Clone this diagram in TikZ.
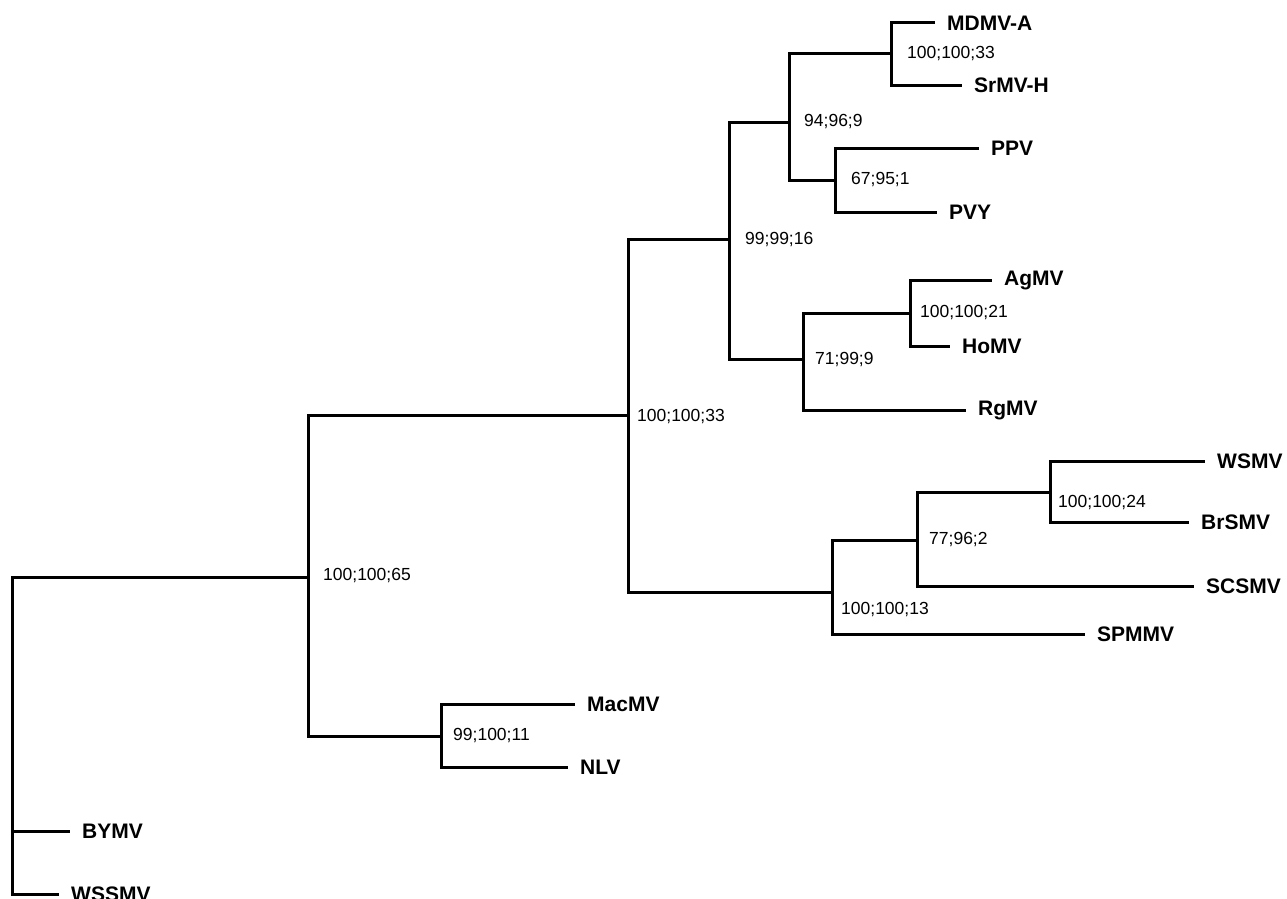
\documentclass[tikz,border=0pt]{standalone}
\usepackage{fontspec}
\setmainfont{Liberation Sans}
\tikzset{
	branch/.style={line width=3pt, line cap=rect},
	taxon/.style={anchor=west, inner xsep=14pt, inner ysep=0pt, font=\fontsize{21}{21}\selectfont\bfseries},
	boot/.style={anchor=west, inner sep=0pt, font=\fontsize{17.5}{18}\selectfont}
}
\begin{document}
\begin{tikzpicture}[x=1pt,y=-1pt]
		\useasboundingbox (0,0) rectangle (1287,899);
		
		% internal nodes
		\coordinate (root) at (12,577);
		\coordinate (n65) at (308,577);
		\coordinate (n33) at (628,415);
		\coordinate (n16) at (729,239);
		\coordinate (n9a) at (789,122);
		\coordinate (n33a) at (891,54);
		\coordinate (n1) at (835,180);
		\coordinate (n9b) at (803,359);
		\coordinate (n21) at (910,313);
		\coordinate (n13) at (832,592);
		\coordinate (n2) at (917,540);
		\coordinate (n24) at (1050,492);
		\coordinate (n11) at (441,736);
		
		% taxa
		\node [taxon] (MDMVA) at (933,23) {MDMV-A};
		\node [taxon] (SrMVH) at (960,85) {SrMV-H};
		\node [taxon] (PPV) at (977,148) {PPV};
		\node [taxon] (PVY) at (935,212) {PVY};
		\node [taxon] (AgMV) at (990,280) {AgMV};
		\node [taxon] (HoMV) at (948,346) {HoMV};
		\node [taxon] (RgMV) at (964,410) {RgMV};
		\node [taxon] (WSMV) at (1203,461) {WSMV};
		\node [taxon] (BrSMV) at (1187,522) {BrSMV};
		\node [taxon] (SCSMV) at (1192,586) {SCSMV};
		\node [taxon] (SPMMV) at (1083,634) {SPMMV};
		\node [taxon] (MacMV) at (573,704) {MacMV};
		\node [taxon] (NLV) at (566,767) {NLV};
		\node [taxon] (BYMV) at (68,831) {BYMV};
		\node [taxon, yshift=-5pt] (WSSMV) at (57,889) {WSSMV};
		
		% branches
		\draw[branch] (root) -- (n65) (root) |- (BYMV.west) (root) |- (WSSMV.west);
		\draw[branch] (n65) |- (n33) (n65) |- (n11);
		\draw[branch] (n33) |- (n16) (n33) |- (n13);
		\draw[branch] (n16) |- (n9a) (n16) |- (n9b);
		\draw[branch] (n9a) |- (n33a) (n9a) |- (n1);
		\draw[branch] (n33a) |- (MDMVA.west) (n33a) |- (SrMVH.west);
		\draw[branch] (n1) |- (PPV.west) (n1) |- (PVY.west);
		\draw[branch] (n9b) |- (n21) (n9b) |- (RgMV.west);
		\draw[branch] (n21) |- (AgMV.west) (n21) |- (HoMV.west);
		\draw[branch] (n13) |- (n2) (n13) |- (SPMMV.west);
		\draw[branch] (n2) |- (n24) (n2) |- (SCSMV.west);
		\draw[branch] (n24) |- (WSMV.west) (n24) |- (BrSMV.west);
		\draw[branch] (n11) |- (MacMV.west) (n11) |- (NLV.west);
		
		% support values
		\node [boot, at= {(323,576)}] (b65) {100;100;65};
		\node [boot, at= {(637,417)}] (b33) {100;100;33};
		\node [boot, at= {(745,240)}] (b16) {99;99;16};
		\node [boot, at= {(804,122)}] (b9a) {94;96;9};
		\node [boot, at= {(907,54)}] (b33a) {100;100;33};
		\node [boot, at= {(851,180)}] (b1) {67;95;1};
		\node [boot, at= {(815,360)}] (b9b) {71;99;9};
		\node [boot, at= {(920,313)}] (b21) {100;100;21};
		\node [boot, at= {(841,610)}] (b13) {100;100;13};
		\node [boot, at= {(929,540)}] (b2) {77;96;2};
		\node [boot, at= {(1058,503)}] (b24) {100;100;24};
		\node [boot, at= {(453,736)}] (b11) {99;100;11};
		\end{tikzpicture}
\end{document}
